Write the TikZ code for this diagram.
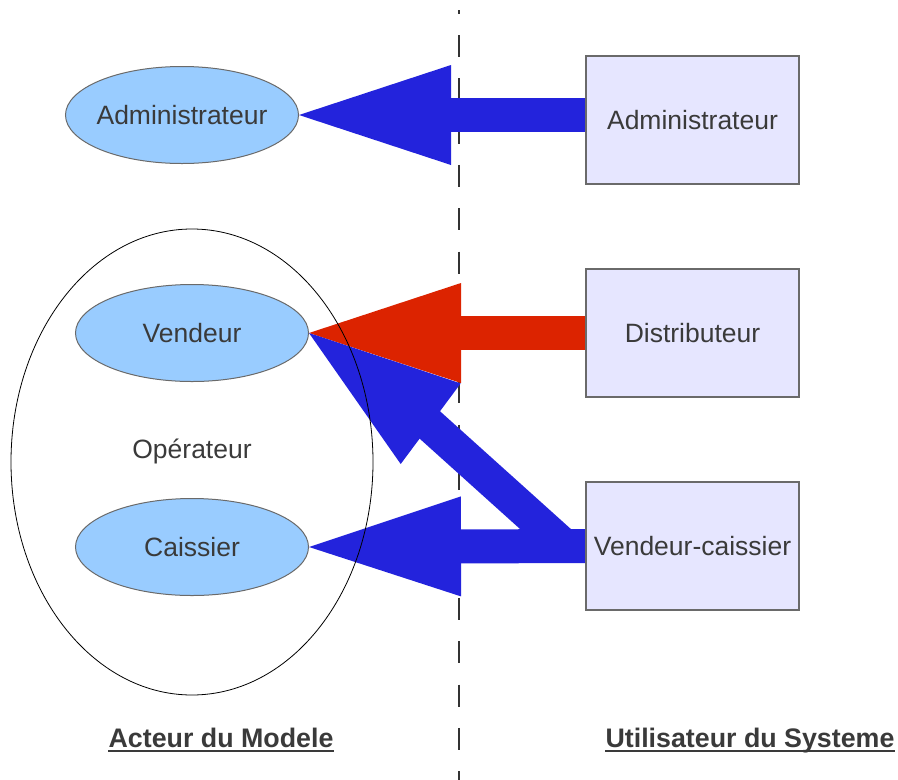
\documentclass[tikz,border=0pt]{standalone}
\usepackage{fontspec}
\setmainfont{Liberation Sans}
\usetikzlibrary{shapes.geometric,arrows.meta,backgrounds,calc}
\definecolor{ellfill}{HTML}{99CCFF}
\definecolor{boxfill}{HTML}{E6E6FF}
\definecolor{edgegray}{HTML}{6A6A6A}
\definecolor{txt}{HTML}{3A3A3A}
\definecolor{ablue}{HTML}{2323DC}
\definecolor{ared}{HTML}{DC2300}
\begin{document}
\begin{tikzpicture}[x=1pt,y=-1pt,
  lab/.style={text=txt, font=\fontsize{26.5}{30}\selectfont},
  actor/.style={ellipse, draw=edgegray, line width=1pt, fill=ellfill,
    minimum width=233pt, minimum height=97pt, inner sep=0pt},
  sysbox/.style={rectangle, draw=edgegray, line width=1.3pt, fill=boxfill,
    minimum width=213pt, minimum height=128pt, inner sep=0pt, lab},
  grouping/.style={ellipse, draw=black, line width=0.8pt,
    minimum width=362pt, minimum height=466pt, inner sep=0pt},
  title/.style={text=txt, inner sep=0pt, anchor=base,
    font=\bfseries\fontsize{26.8}{30}\selectfont},
  titleline/.style={draw=txt, line width=1.6pt},
  divider/.style={draw=black!80, line width=1.2pt,
    dash pattern=on 22pt off 21.3pt, dash phase=18.3pt},
  fat/.style={line width=34pt,
    -{Triangle[length=152pt,width=100pt,line width=0pt]}},
  shaft/.style={line width=34pt}
]
\useasboundingbox (0,0) rectangle (898,780);

% actors of the model
\node[actor, label={[lab]center:Administrateur}] (aadmin) at (182,115) {};
\node[actor, label={[lab]center:Vendeur}] (avend) at (192,333) {};
\node[actor, label={[lab]center:Caissier}] (acais) at (192,547) {};

% system users
\node[sysbox] (sadmin) at (692.5,120) {Administrateur};
\node[sysbox] (sdist) at (692.5,333) {Distributeur};
\node[sysbox] (svc) at (692.5,546) {Vendeur-caissier};

% divider
\coordinate (dtop) at (459,10);
\coordinate (dbot) at (459,780);

\begin{scope}[on background layer]
  \draw[divider] (dtop) -- (dbot);
  \draw[fat, ablue] (aadmin.east -| sadmin.west) -- (aadmin.east);
  \draw[fat, ared] (sdist.west) -- (avend.east);
  % diagonal arrow Vendeur-caissier -> Vendeur
  \coordinate (vcstart) at ($(svc.west)+(-21,0)$);
  \coordinate (dhead) at ($(avend.east)+(112,84)$);
  \draw[shaft, ablue] (vcstart) -- (dhead);
  \fill[ablue] (avend.east) -- ($(avend.east)+(151.7,50.4)$)
    -- ($(avend.east)+(91.7,131)$) -- cycle;
  \draw[fat, ablue] (svc.west) -- (acais.east);
\end{scope}

% operator grouping
\node[grouping] (oper) at (192,462) {};
\node[lab] (operlab) at (192,451) {Opérateur};

% titles
\node[title] (ltitle) at (221,747) {Acteur du Modele};
\node[title] (rtitle) at (750,747) {Utilisateur du Systeme};
\draw[titleline] ($(ltitle.base west)+(0,4)$) -- ($(ltitle.base east)+(0,4)$);
\draw[titleline] ($(rtitle.base west)+(0,4)$) -- ($(rtitle.base east)+(0,4)$);
\end{tikzpicture}
\end{document}
